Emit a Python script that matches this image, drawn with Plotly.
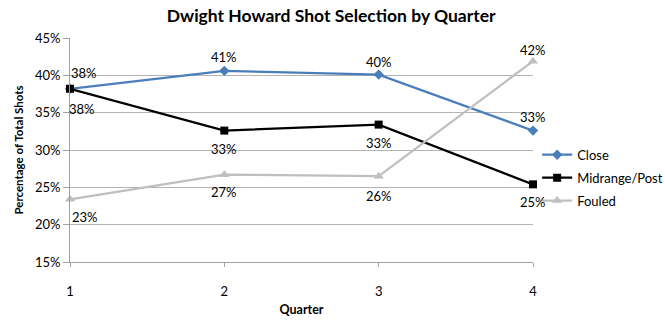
import plotly.graph_objects as go

# Shot mix per quarter (percent of total shots)
quarters = [1, 2, 3, 4]
close = [38.2, 40.6, 40.1, 32.6]
midrange_post = [38.2, 32.6, 33.4, 25.4]
fouled = [23.4, 26.7, 26.5, 41.9]
y_ticks = [15, 20, 25, 30, 35, 40, 45]

FONT = "Lato"

series = [
    ("Close", close, "#4a7ebb", "diamond", 8),
    ("Midrange/Post", midrange_post, "#000000", "square", 8),
    ("Fouled", fouled, "#bfbfbf", "triangle-up", 9),
]

# label offsets in pixels (xshift, yshift) for each point
label_offsets = {
    "Close": [(14, 16), (0, 14), (0, 13), (0, 14)],
    "Midrange/Post": [(12, -20), (0, -18), (0, -18), (0, -18)],
    "Fouled": [(15, -18), (0, -17), (0, -20), (0, 11)],
}

fig = go.Figure()
annotations = []
for name, vals, color, symbol, msize in series:
    fig.add_trace(go.Scatter(
        x=quarters, y=vals, name=name, mode="lines+markers",
        legendgroup=name,
        line=dict(color=color, width=2.25),
        marker=dict(symbol=symbol, size=msize, color=color),
        cliponaxis=False,
    ))
    for q, v, (dx, dy) in zip(quarters, vals, label_offsets[name]):
        annotations.append(dict(
            x=q, y=v, xref="x", yref="y", text=f"{round(v)}%",
            showarrow=False, xshift=dx, yshift=dy,
            font=dict(family=FONT, size=13, color="#000000"),
        ))

fig.update_layout(
    width=665, height=325,
    margin=dict(l=70, r=132, t=37.5, b=62.5, autoexpand=False),
    paper_bgcolor="white", plot_bgcolor="white",
    font=dict(family=FONT, size=13, color="#000000"),
    title=dict(text="<b>Dwight Howard Shot Selection by Quarter</b>",
               x=0.498, xanchor="center", y=0.951, yanchor="middle",
               font=dict(family=FONT, size=17.5, color="#000000")),
    showlegend=True,
    legend=dict(x=1.009, xanchor="left", y=0.376, yanchor="middle",
                font=dict(family=FONT, size=13, color="#000000"),
                bgcolor="rgba(0,0,0,0)", itemwidth=30, tracegroupgap=3),
    annotations=annotations,
)

fig.update_xaxes(
    range=[1, 4], tickvals=quarters, ticktext=[str(q) for q in quarters],
    showgrid=False, zeroline=False,
    showline=True, linecolor="#a0a0a0", linewidth=1,
    ticks="outside", ticklen=4, tickcolor="#a0a0a0",
    ticklabelstandoff=13,
    tickfont=dict(family=FONT, size=13),
    title=dict(text="<b>Quarter</b>", standoff=7,
               font=dict(family=FONT, size=12.5)),
)
fig.update_yaxes(
    range=[15, 45], tickvals=y_ticks, ticktext=[f"{t}%" for t in y_ticks],
    showgrid=True, gridcolor="#b3b3b3", gridwidth=1, zeroline=False,
    showline=True, linecolor="#a0a0a0", linewidth=1,
    ticks="outside", ticklen=6, tickcolor="#a0a0a0",
    tickfont=dict(family=FONT, size=13),
    title=dict(text="<b>Percentage of Total Shots</b>", standoff=8,
               font=dict(family=FONT, size=11.5)),
)

fig.write_html("out.html")
